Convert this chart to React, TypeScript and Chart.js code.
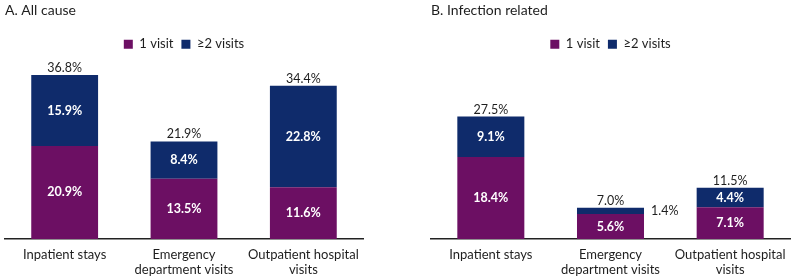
import React, { useEffect, useRef } from "react";
import { Chart, registerables } from "chart.js";

Chart.register(...registerables);

const categories: (string | string[])[] = [
  "Inpatient stays",
  ["Emergency", "department visits"],
  ["Outpatient hospital", "visits"],
];
const seriesNames = ["1 visit", "\u22652 visits"];
const allCauseOne = [20.9, 13.5, 11.6];
const allCauseTwo = [15.9, 8.4, 22.8];
const allCauseTotal = [36.8, 21.9, 34.4];
const infectionOne = [18.4, 5.6, 7.1];
const infectionTwo = [9.1, 1.4, 4.4];
const infectionTotal = [27.5, 7.0, 11.5];

const PURPLE = "#6C0F63";
const NAVY = "#0F2B6B";
const TEXT = "#1e1e1e";
const FONT = "Lato, 'Noto Sans', sans-serif";

const labelPlugin = {
  id: "valueLabels",
  afterDatasetsDraw(chart: any) {
    const ctx = chart.ctx;
    const totals: number[] = chart.options.plugins.valueLabels.totals;
    ctx.save();
    chart.data.datasets.forEach((ds: any, di: number) => {
      const meta = chart.getDatasetMeta(di);
      meta.data.forEach((el: any, i: number) => {
        const v = ds.data[i];
        const top = Math.min(el.y, el.base);
        const h = Math.abs(el.base - el.y);
        const txt = v.toFixed(1) + "%";
        if (h >= 14) {
          ctx.font = `bold 12.5px ${FONT}`;
          ctx.fillStyle = "#ffffff";
          ctx.textAlign = "center";
          ctx.textBaseline = "middle";
          ctx.fillText(txt, el.x, top + h / 2);
        } else {
          ctx.font = `12.5px ${FONT}`;
          ctx.fillStyle = TEXT;
          ctx.textAlign = "left";
          ctx.textBaseline = "middle";
          ctx.fillText(txt, el.x + el.width / 2 + 7, top + h / 2);
        }
      });
    });
    const lastMeta = chart.getDatasetMeta(chart.data.datasets.length - 1);
    lastMeta.data.forEach((el: any, i: number) => {
      ctx.font = `12.5px ${FONT}`;
      ctx.fillStyle = TEXT;
      ctx.textAlign = "center";
      ctx.textBaseline = "middle";
      ctx.fillText(totals[i].toFixed(1) + "%", el.x, el.y - 7);
    });
    ctx.restore();
  },
};

function Panel({
  title,
  one,
  two,
  totals,
  padLeft,
  padRight,
}: {
  title: string;
  one: number[];
  two: number[];
  totals: number[];
  padLeft: number;
  padRight: number;
}) {
  const ref = useRef<HTMLCanvasElement | null>(null);
  useEffect(() => {
    if (!ref.current) return;
    const chart = new Chart(ref.current, {
      type: "bar",
      data: {
        labels: categories,
        datasets: [
          { label: seriesNames[0], data: one, backgroundColor: PURPLE, categoryPercentage: 0.8, barPercentage: 0.7 },
          { label: seriesNames[1], data: two, backgroundColor: NAVY, categoryPercentage: 0.8, barPercentage: 0.7 },
        ],
      },
      options: {
        animation: false,
        responsive: false,
        maintainAspectRatio: false,
        layout: { padding: { left: padLeft, right: padRight, top: 0, bottom: 0 } },
        plugins: {
          title: {
            display: true,
            text: title,
            align: "start",
            color: TEXT,
            font: { family: FONT, size: 14, weight: "normal" },
            padding: { top: 2, bottom: 11 },
          },
          legend: {
            display: true,
            position: "top",
            align: "center",
            labels: {
              boxWidth: 9,
              boxHeight: 9,
              padding: 8,
              color: TEXT,
              font: { family: FONT, size: 13 },
            },
          },
          tooltip: { enabled: false },
          valueLabels: { totals },
        } as any,
        scales: {
          x: {
            stacked: true,
            grid: { display: false, drawTicks: false },
            border: { display: true, color: "#222222", width: 1.5 },
            ticks: { color: TEXT, font: { family: FONT, size: 13, lineHeight: 1.15 }, padding: 8, maxRotation: 0 },
            afterFit: (scale: any) => {
              scale.height = 41;
            },
          },
          y: {
            stacked: true,
            display: false,
            min: 0,
            max: 40,
          },
        },
      },
      plugins: [labelPlugin],
    });
    return () => chart.destroy();
  }, []);
  return <canvas ref={ref} width={398} height={280} style={{ display: "block", width: 398, height: 280 }} />;
}

export default function App() {
  useEffect(() => {
    document.body.style.margin = "0";
    document.body.style.background = "#ffffff";
  }, []);
  return (
    <div style={{ display: "flex", width: 796, height: 280, background: "#fff" }}>
      <Panel title="A. All cause" one={allCauseOne} two={allCauseTwo} totals={allCauseTotal} padLeft={5} padRight={35} />
      <Panel title="B. Infection related" one={infectionOne} two={infectionTwo} totals={infectionTotal} padLeft={33} padRight={6} />
    </div>
  );
}
